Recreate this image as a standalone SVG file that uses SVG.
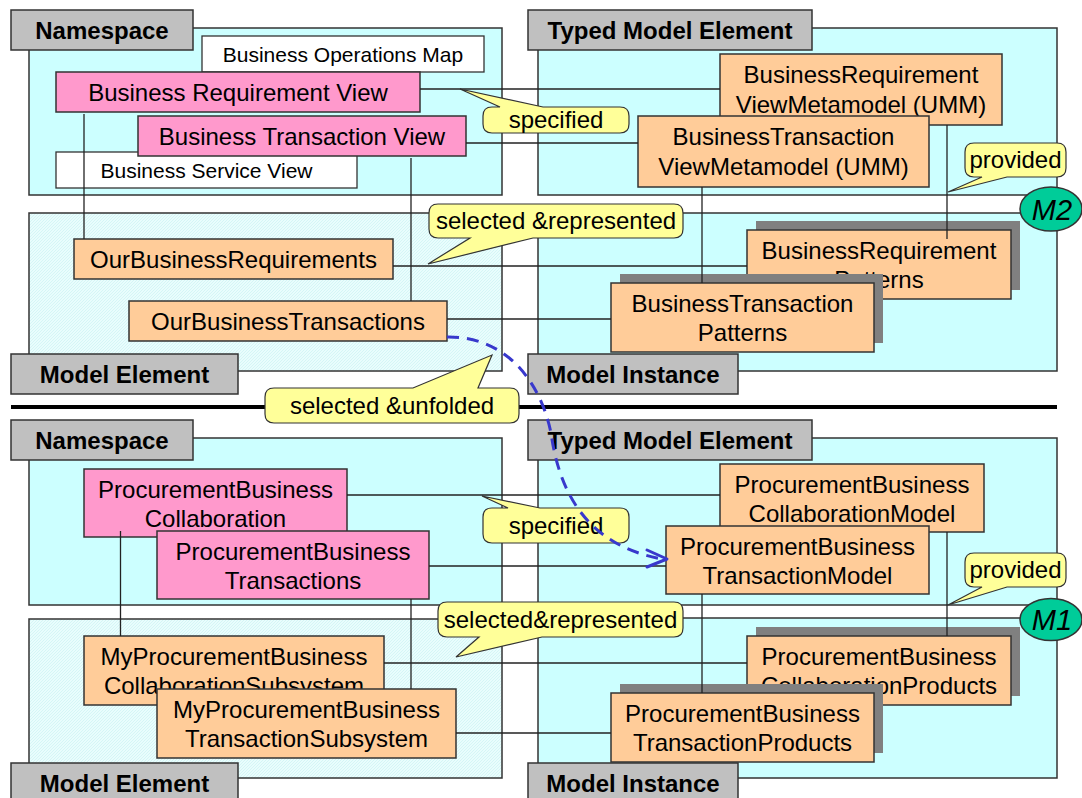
<svg xmlns="http://www.w3.org/2000/svg" width="1082" height="798" viewBox="0 0 1082 798">
  <style>
    text { font-family: "Liberation Sans", Arial, sans-serif; fill: #000; text-anchor: middle; }
    .ctr { fill: #ccffff; stroke: #333; stroke-width: 1.5; }
    .hatch { fill: url(#hatch); stroke: #333; stroke-width: 1.5; }
    .lbl rect { fill: #c0c0c0; stroke: #333; stroke-width: 1.5; }
    .lbl text { font-size: 24px; font-weight: bold; }
    .wht rect { fill: #ffffff; stroke: #333; stroke-width: 1.3; }
    .wht text { font-size: 21px; }
    .pink rect { fill: #ff99cc; stroke: #333; stroke-width: 1.5; }
    .org rect { fill: #ffcc99; stroke: #333; stroke-width: 1.5; }
    .org rect.sh { fill: #808080; stroke: none; }
    .pink text, .org text { font-size: 24px; }
    .conn line { stroke: #222; stroke-width: 1.3; }
    .sep { stroke: #000; stroke-width: 4; }
    .call path { fill: #ffff99; stroke: #333; stroke-width: 1.2; }
    .call text { font-size: 24px; }
    .lvl ellipse { fill: #00cc99; stroke: #333; stroke-width: 1.5; }
    .lvl text { font-size: 29px; font-style: italic; }
    .flow { fill: none; stroke: #3838cc; stroke-width: 3; stroke-dasharray: 12 8; }
    .flowhead { fill: none; stroke: #3838cc; stroke-width: 3; stroke-linecap: round; stroke-linejoin: round; }
  </style>
  <defs>
    <pattern id="hatch" width="3" height="3" patternUnits="userSpaceOnUse">
      <rect width="3" height="3" fill="#e9fdfd"/>
      <path d="M-1,1 L1,-1 M0,3 L3,0 M2,4 L4,2" stroke="#cdf3f3" stroke-width="0.7"/>
    </pattern>
  </defs>

  <!-- level containers -->
  <g id="containers">
    <rect class="ctr" x="29" y="28" width="473" height="167"/>
    <rect class="hatch" x="29" y="213" width="473" height="158"/>
    <rect class="ctr" x="538" y="28" width="519" height="167"/>
    <rect class="ctr" x="538" y="213" width="519" height="158"/>
    <rect class="ctr" x="29" y="438" width="473" height="167"/>
    <rect class="hatch" x="29" y="619" width="473" height="159"/>
    <rect class="ctr" x="538" y="438" width="519" height="167"/>
    <rect class="ctr" x="538" y="618" width="519" height="160"/>
  </g>

  <!-- container captions -->
  <g id="lbl-namespace-m2" class="lbl"><rect x="11" y="10" width="182" height="40"/><text x="102" y="38.5">Namespace</text></g>
  <g id="lbl-typed-m2" class="lbl"><rect x="528" y="10" width="284" height="40"/><text x="670" y="38.5">Typed Model Element</text></g>
  <g id="lbl-element-m2" class="lbl"><rect x="11" y="354" width="227" height="40"/><text x="124.5" y="382.5">Model Element</text></g>
  <g id="lbl-instance-m2" class="lbl"><rect x="528" y="354" width="210" height="40"/><text x="633" y="382.5">Model Instance</text></g>
  <g id="lbl-namespace-m1" class="lbl"><rect x="11" y="420" width="182" height="40"/><text x="102" y="448.5">Namespace</text></g>
  <g id="lbl-typed-m1" class="lbl"><rect x="528" y="420" width="284" height="40"/><text x="670" y="448.5">Typed Model Element</text></g>

  <!-- M2 nodes -->
  <g id="business-operations-map" class="wht"><rect x="202" y="36" width="282" height="36"/><text x="343" y="61.5">Business Operations Map</text></g>
  <g id="business-service-view" class="wht"><rect x="56" y="152" width="301" height="36"/><text x="206.5" y="177.5">Business Service View</text></g>
  <g id="business-requirement-view" class="pink"><rect x="56" y="72" width="364" height="40"/><text x="238" y="100.5">Business Requirement View</text></g>
  <g id="business-transaction-view" class="pink"><rect x="138" y="116" width="328" height="40"/><text x="302" y="144.5">Business Transaction View</text></g>
  <g id="our-business-requirements" class="org"><rect x="74" y="239" width="319" height="40"/><text x="233.5" y="267.5">OurBusinessRequirements</text></g>
  <g id="our-business-transactions" class="org"><rect x="129" y="301" width="318" height="40"/><text x="288" y="329.5">OurBusinessTransactions</text></g>
  <g id="br-view-metamodel" class="org"><rect x="720" y="54" width="282" height="71"/><text x="861" y="83">BusinessRequirement</text><text x="861" y="113">ViewMetamodel (UMM)</text></g>
  <g id="bt-view-metamodel" class="org"><rect x="638" y="116" width="291" height="71"/><text x="783.5" y="145">BusinessTransaction</text><text x="783.5" y="175">ViewMetamodel (UMM)</text></g>
  <g id="br-patterns" class="org"><rect class="sh" x="756" y="221" width="264" height="69"/><rect x="747" y="230" width="264" height="69"/><text x="879" y="259">BusinessRequirement</text><text x="879" y="288">Patterns</text></g>
  <g id="bt-patterns" class="org"><rect class="sh" x="620" y="274" width="263" height="69"/><rect x="611" y="283" width="263" height="69"/><text x="742.5" y="312">BusinessTransaction</text><text x="742.5" y="341">Patterns</text></g>

  <!-- M1 nodes -->
  <g id="procurement-collaboration" class="pink"><rect x="84" y="469" width="263" height="68"/><text x="215.5" y="497.5">ProcurementBusiness</text><text x="215.5" y="527">Collaboration</text></g>
  <g id="procurement-transactions" class="pink"><rect x="157" y="531" width="272" height="68"/><text x="293" y="559.5">ProcurementBusiness</text><text x="293" y="589">Transactions</text></g>
  <g id="my-collaboration-subsystem" class="org"><rect x="84" y="636" width="300" height="69"/><text x="234" y="665">MyProcurementBusiness</text><text x="234" y="694">CollaborationSubsystem</text></g>
  <g id="my-transaction-subsystem" class="org"><rect x="157" y="689" width="299" height="69"/><text x="306.5" y="718">MyProcurementBusiness</text><text x="306.5" y="747">TransactionSubsystem</text></g>
  <g id="collaboration-model" class="org"><rect x="720" y="464" width="264" height="68"/><text x="852" y="493">ProcurementBusiness</text><text x="852" y="522">CollaborationModel</text></g>
  <g id="transaction-model" class="org"><rect x="666" y="526" width="263" height="68"/><text x="797.5" y="555">ProcurementBusiness</text><text x="797.5" y="584">TransactionModel</text></g>
  <g id="collaboration-products" class="org"><rect class="sh" x="756" y="627" width="264" height="69"/><rect x="747" y="636" width="264" height="69"/><text x="879" y="665">ProcurementBusiness</text><text x="879" y="694">CollaborationProducts</text></g>
  <g id="transaction-products" class="org"><rect class="sh" x="620" y="684" width="263" height="69"/><rect x="611" y="693" width="263" height="69"/><text x="742.5" y="722">ProcurementBusiness</text><text x="742.5" y="751">TransactionProducts</text></g>

  <g id="lbl-element-m1" class="lbl"><rect x="11" y="763" width="227" height="40"/><text x="124.5" y="791.5">Model Element</text></g>
  <g id="lbl-instance-m1" class="lbl"><rect x="528" y="763" width="210" height="40"/><text x="633" y="791.5">Model Instance</text></g>

  <!-- connectors -->
  <g id="connectors" class="conn">
    <line x1="420" y1="89" x2="720" y2="89"/>
    <line x1="466" y1="143" x2="638" y2="143"/>
    <line x1="393" y1="266" x2="747" y2="266"/>
    <line x1="447" y1="319" x2="611" y2="319"/>
    <line x1="84" y1="114" x2="84" y2="239"/>
    <line x1="411" y1="158" x2="411" y2="301"/>
    <line x1="947" y1="125" x2="947" y2="239"/>
    <line x1="702" y1="187" x2="702" y2="283"/>
    <line x1="347" y1="495" x2="720" y2="495"/>
    <line x1="429" y1="566" x2="666" y2="566"/>
    <line x1="384" y1="663" x2="747" y2="663"/>
    <line x1="456" y1="733" x2="611" y2="733"/>
    <line x1="120.5" y1="531" x2="120.5" y2="636"/>
    <line x1="411" y1="599" x2="411" y2="689"/>
    <line x1="947" y1="532" x2="947" y2="636"/>
    <line x1="702" y1="594" x2="702" y2="693"/>
  </g>

  <!-- level separator -->
  <line id="separator" class="sep" x1="11" y1="407" x2="1057" y2="407"/>

  <!-- callouts -->
  <g id="callout-specified-m2" class="call">
    <path d="M492,107 L500,107 L460,89 L543,107 L620,107 Q629,107 629,116 L629,124 Q629,133 620,133 L492,133 Q483,133 483,124 L483,116 Q483,107 492,107 Z"/>
    <text x="556" y="128">specified</text>
  </g>
  <g id="callout-provided-m2" class="call">
    <path d="M974,143 L1057,143 Q1066,143 1066,152 L1066,168 Q1066,177 1057,177 L1007,177 L948,192 L982,177 L974,177 Q965,177 965,168 L965,152 Q965,143 974,143 Z"/>
    <text x="1015.5" y="168">provided</text>
  </g>
  <g id="callout-represented-m2" class="call">
    <path d="M438,204 L674,204 Q683,204 683,213 L683,229 Q683,238 674,238 L533,238 L428,264 L470,238 L438,238 Q429,238 429,229 L429,213 Q429,204 438,204 Z"/>
    <text x="556" y="229">selected &amp;represented</text>
  </g>
  <g id="callout-unfolded" class="call">
    <path d="M274,388 L413,388 L492,355 L478,388 L510,388 Q519,388 519,397 L519,414 Q519,423 510,423 L274,423 Q265,423 265,414 L265,397 Q265,388 274,388 Z"/>
    <text x="392" y="414">selected &amp;unfolded</text>
  </g>
  <g id="callout-specified-m1" class="call">
    <path d="M492,508 L508,508 L482,496 L540,508 L620,508 Q629,508 629,517 L629,534 Q629,543 620,543 L492,543 Q483,543 483,534 L483,517 Q483,508 492,508 Z"/>
    <text x="556" y="534">specified</text>
  </g>
  <g id="callout-represented-m1" class="call">
    <path d="M447,602 L674,602 Q683,602 683,611 L683,628 Q683,637 674,637 L542,637 L456,657 L479,637 L447,637 Q438,637 438,628 L438,611 Q438,602 447,602 Z"/>
    <text x="560.5" y="628">selected&amp;represented</text>
  </g>
  <g id="callout-provided-m1" class="call">
    <path d="M974,553 L1057,553 Q1066,553 1066,562 L1066,578 Q1066,587 1057,587 L1007,587 L948,605 L982,587 L974,587 Q965,587 965,578 L965,562 Q965,553 974,553 Z"/>
    <text x="1015.5" y="578">provided</text>
  </g>

  <!-- metalevel badges -->
  <g id="level-m2" class="lvl"><ellipse cx="1051" cy="209" rx="31" ry="22"/><text x="1052" y="219.5">M2</text></g>
  <g id="level-m1" class="lvl"><ellipse cx="1051" cy="619.5" rx="31" ry="21"/><text x="1052" y="630">M1</text></g>

  <!-- unfolding from M2 transactions to the M1 transaction model -->
  <g id="unfold-flow">
    <path class="flow" d="M447,337 C505,336 540,380 551,433 C559,490 585,545 662,559"/>
    <polyline class="flowhead" points="647,550 667,559 647,567"/>
  </g>
</svg>
